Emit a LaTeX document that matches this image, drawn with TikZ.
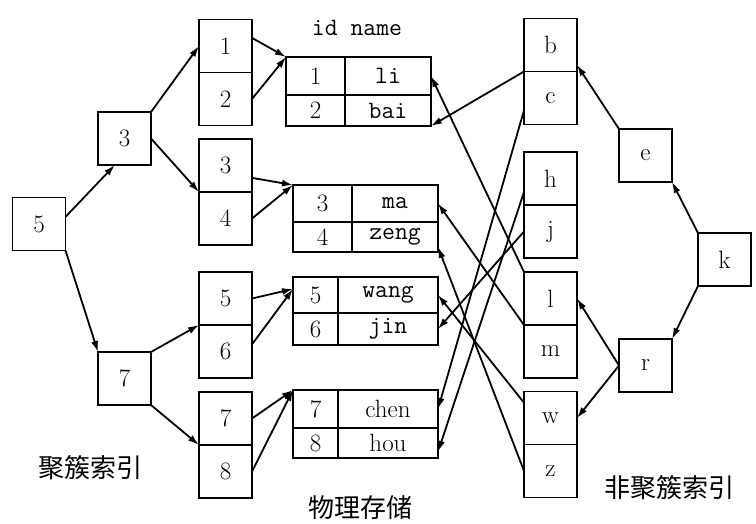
\documentclass[tikz,border=0pt]{standalone}
\usepackage{fontspec}
\newfontfamily\cjk{Noto Sans CJK SC}
\usetikzlibrary{positioning, arrows.meta}

\begin{document}
\begin{tikzpicture}[x=1pt, y=-1pt, >={Latex[length=11pt, width=7pt]}, line width=1.8pt, node distance=53pt,
    box/.style={rectangle, draw, line width=1.4pt, minimum size=53pt, inner sep=0pt, outer sep=0pt, font=\fontsize{25}{30}\selectfont},
    cell/.style={rectangle, draw, line width=1.4pt, inner sep=0pt, outer sep=0pt, font=\fontsize{25}{30}\selectfont},
    nm/.style={cell, font=\fontsize{25}{30}\selectfont\ttfamily},
    lbl/.style={font=\fontsize{26}{30}\selectfont\cjk}]
    \useasboundingbox (0,0) rectangle (756,523);
    % clustered index
    \node[box] (n5) at (39,224) {5};
    \node[box] (n3) at (124.5,138.5) {3};
    \node[box] (n7) at (124.5,378.5) {7};
    \node[box] (p1) at (225.5,46) {1};
    \node[box, below of=p1] (p2) {2};
    \node[box] (p3) at (225.5,165.5) {3};
    \node[box, below of=p3] (p4) {4};
    \node[box] (p5) at (225.5,298.5) {5};
    \node[box, below of=p5] (p6) {6};
    \node[box] (p7) at (225.5,418.5) {7};
    \node[box, below of=p7] (p8) {8};
    % physical storage
    \node[font=\fontsize{25}{30}\selectfont\ttfamily] (hd) at (357,28) {id name};
    \node[cell, minimum width=59pt, minimum height=38pt] (r1i) at (315.5,76) {1};
    \node[nm, minimum width=86pt, minimum height=38pt, right=0pt of r1i] (r1n) {li};
    \node[cell, minimum width=59pt, minimum height=31pt, below=0pt of r1i] (r2i) {2};
    \node[nm, minimum width=86pt, minimum height=31pt, right=0pt of r2i] (r2n) {bai};
    \node[cell, minimum width=59pt, minimum height=37pt] (r3i) at (322.5,203.5) {3};
    \node[nm, minimum width=86pt, minimum height=37pt, right=0pt of r3i] (r3n) {ma};
    \node[cell, minimum width=59pt, minimum height=30pt, below=0pt of r3i] (r4i) {4};
    \node[nm, minimum width=86pt, minimum height=30pt, right=0pt of r4i] (r4n) {zeng};
    \node[cell, minimum width=45pt, minimum height=36pt] (r5i) at (315.5,295) {5};
    \node[nm, minimum width=100pt, minimum height=36pt, right=0pt of r5i] (r5n) {wang};
    \node[cell, minimum width=45pt, minimum height=32pt, below=0pt of r5i] (r6i) {6};
    \node[nm, minimum width=100pt, minimum height=32pt, right=0pt of r6i] (r6n) {jin};
    \node[cell, minimum width=45pt, minimum height=38pt] (r7i) at (315.5,409) {7};
    \node[cell, minimum width=100pt, minimum height=38pt, right=0pt of r7i] (r7n) {chen};
    \node[cell, minimum width=45pt, minimum height=30pt, below=0pt of r7i] (r8i) {8};
    \node[cell, minimum width=100pt, minimum height=30pt, right=0pt of r8i] (r8n) {hou};
    % non-clustered index
    \node[box] (b) at (550.5,45) {b};
    \node[box, below of=b] (c) {c};
    \node[box] (h) at (550.5,178.5) {h};
    \node[box, below of=h] (j) {j};
    \node[box] (l) at (550.5,298.5) {l};
    \node[box, below of=l] (m) {m};
    \node[box] (w) at (550.5,418) {w};
    \node[box, below of=w] (z) {z};
    \node[box] (e) at (645.5,155.5) {e};
    \node[box] (k) at (724.5,259.5) {k};
    \node[box] (r) at (645.5,365.5) {r};
    \node[lbl] (ci) at (90,468) {聚簇索引};
    \node[lbl] (ps) at (360,508) {物理存储};
    \node[lbl] (nci) at (669,488) {非聚簇索引};
    % clustered index arrows
    \draw[->] (n5.15) -- (n3.-110);
    \draw[->] (n5.south east) -- (n7.north west);
    \draw[->] (n3.north east) -- (p1.west);
    \draw[->] (n3.east) -- (p3.south west);
    \draw[->] (n7.north east) -- (p5.south west);
    \draw[->] (n7.south east) -- (p7.south west);
    \draw[->] (p1.17) -- (r1i.north west);
    \draw[->] (p2.east) -- (r1i.north west);
    \draw[->] (p3.-25) -- (r3i.north west);
    \draw[->] (p4.east) -- (r3i.north west);
    \draw[->] (p5.east) -- (r5i.165);
    \draw[->] (p6.15) -- (r5i.165);
    \draw[->] (p7.east) -- (r7i.north west);
    \draw[->] (p8.east) -- (r7i.north west);
    % non-clustered index arrows
    \draw[->] (k.north west) -- (e.south east);
    \draw[->] (k.south west) -- (r.north east);
    \draw[->] (e.north west) -- (b.-37);
    \draw[->] (r.west) -- (l.east);
    \draw[->] (r.west) -- (w.east);
    \draw[->] (b.south west) -- (r2n.south east);
    \draw[->] (c.205) -- (r7n.east);
    \draw[->] (h.207) -- (r8n.-10);
    \draw[->] (j.west) -- (r6n.east);
    \draw[->] (l.north west) -- (r1n.east);
    \draw[->] (m.north west) -- (r3n.east);
    \draw[->] (w.150) -- (r5n.east);
    \draw[->] (z.west) -- (r4n.-13);
\end{tikzpicture}
\end{document}
